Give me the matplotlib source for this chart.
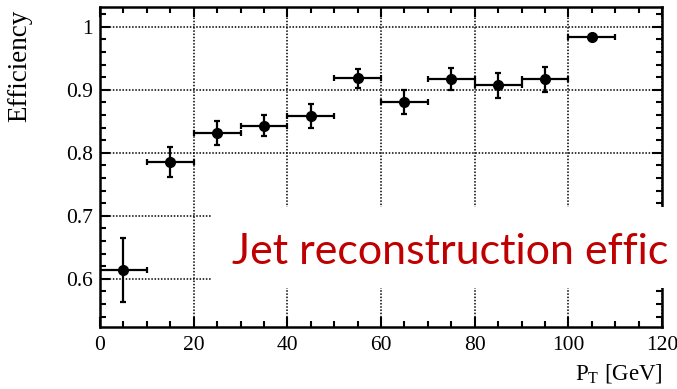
import matplotlib
matplotlib.use("Agg")
import matplotlib.pyplot as plt
from matplotlib.patches import Rectangle
from matplotlib.ticker import MultipleLocator

plt.rcParams['font.family'] = ['Liberation Serif', 'DejaVu Serif']
plt.rcParams['mathtext.fontset'] = 'custom'
plt.rcParams['mathtext.rm'] = 'Liberation Serif'

# data
pt_centers = [5, 15, 25, 35, 45, 55, 65, 75, 85, 95, 105]
pt_halfwidth = [5, 5, 5, 5, 5, 5, 5, 5, 5, 5, 5]
efficiency = [0.614, 0.785, 0.831, 0.843, 0.858, 0.918, 0.880, 0.917, 0.907, 0.917, 0.984]
eff_err = [0.051, 0.024, 0.019, 0.017, 0.019, 0.015, 0.019, 0.018, 0.020, 0.020, 0.003]
x_ticks = [0, 20, 40, 60, 80, 100, 120]
y_ticks = [0.6, 0.7, 0.8, 0.9, 1.0]
y_tick_labels = ['0.6', '0.7', '0.8', '0.9', '1']
overlay_text = "Jet reconstruction effic"

W, H = 677, 389
fig = plt.figure(figsize=(W / 100, H / 100), dpi=100)
ax = fig.add_axes([100 / W, 1 - 326.7 / H, (662 - 100) / W, (326.7 - 7) / H])

ax.errorbar(pt_centers, efficiency, xerr=pt_halfwidth, yerr=eff_err,
            fmt='o', color='black', markersize=7, elinewidth=1.6,
            capsize=2.2, capthick=1.6, zorder=5)

ax.set_xlim(0, 120)
ax.set_ylim(0.524, 1.0315)
ax.set_xticks(x_ticks)
ax.set_yticks(y_ticks)
ax.set_yticklabels(y_tick_labels)
ax.xaxis.set_minor_locator(MultipleLocator(5))
ax.yaxis.set_minor_locator(MultipleLocator(0.02))

ax.grid(True, which='major', color='black', linestyle=(0, (1, 1.1)), linewidth=1.1)
ax.set_axisbelow(True)

for sp in ax.spines.values():
    sp.set_linewidth(1.8)

ax.tick_params(which='both', direction='in', top=True, right=True, labelsize=15.5, width=1.5)
ax.tick_params(which='major', length=7.5)
ax.tick_params(which='minor', length=4)
ax.tick_params(axis='y', pad=5)
ax.tick_params(axis='x', pad=7)

fig.text(20 / W, 1 - 10 / H, 'Efficiency', rotation=90, ha='center', va='top', fontsize=19.5)
fig.text(663 / W, 1 - 380 / H, r'P$_\mathregular{T}$ [GeV]', ha='right', va='baseline', fontsize=16.5)

# white overlay box with red text
rect = Rectangle((212 / W, 1 - 288 / H), 1 - 212 / W + 0.01, (288 - 207) / H,
                 transform=fig.transFigure, facecolor='white', edgecolor='none', zorder=10)
fig.patches.append(rect)
fig.text(232 / W, 1 - 264 / H, overlay_text, color='#C00000', fontsize=31,
         family=['Lato', 'DejaVu Sans'], ha='left', va='baseline', zorder=11)

fig.savefig('out.png', dpi=100)
